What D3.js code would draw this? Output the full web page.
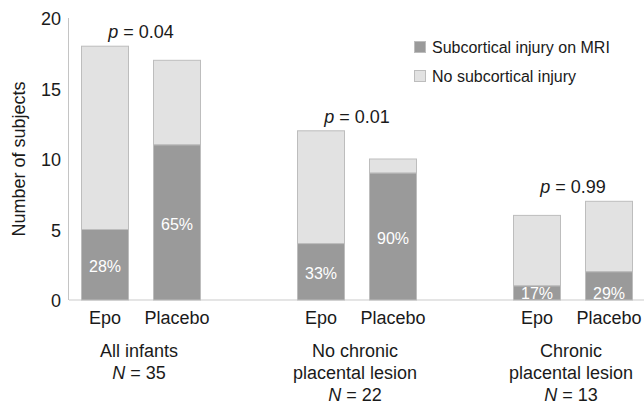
<!DOCTYPE html>
<html>
<head>
<meta charset="utf-8">
<script src="https://cdn.jsdelivr.net/npm/d3@7/dist/d3.min.js"></script>
<style>
  html, body { margin: 0; padding: 0; background: #fff; }
  svg { display: block; font-family: "Liberation Sans", Arial, Helvetica, sans-serif; }
</style>
</head>
<body>
<svg id="chart" width="644" height="404"></svg>
<script>
// ---- data ----
const groupLines = [["All infants"], ["No chronic", "placental lesion"], ["Chronic", "placental lesion"]];
const groupN = [35, 22, 13];
const pValues = ["0.04", "0.01", "0.99"];
const treatments = ["Epo", "Placebo"];
// per bar, in order: group1 Epo, group1 Placebo, group2 Epo, ...
const subcortical   = [5, 11, 4, 9, 1, 2];
const noSubcortical = [13, 6, 8, 1, 5, 5];
const percentLabels = ["28%", "65%", "33%", "90%", "17%", "29%"];
const yTicks = [0, 5, 10, 15, 20];
const legendLabels = ["Subcortical injury on MRI", "No subcortical injury"];

// ---- layout ----
const W = 644, H = 404;
const mLeft = 69, mRight = 645, mTop = 18, mBottom = 300;
const darkFill = "#9a9a9a", lightFill = "#e2e2e2", barStroke = "#bdbdbd";
const textColor = "#1a1a1a";

const svg = d3.select("#chart");

const y = d3.scaleLinear().domain([0, 20]).range([mBottom, mTop]);
// 8 slots: 2 bars per group + 1 empty slot between groups
const x = d3.scaleBand().domain(d3.range(8)).range([mLeft, mRight])
  .paddingInner(1/3).paddingOuter(1/6);

const bars = subcortical.map((s, i) => {
  const g = Math.floor(i / 2), t = i % 2;
  return { g, t, slot: g * 3 + t, sub: s, no: noSubcortical[i], total: s + noSubcortical[i], pct: percentLabels[i] };
});

// axes lines
svg.append("line").attr("x1", mLeft).attr("x2", W).attr("y1", y(0)).attr("y2", y(0))
  .attr("stroke", "#dcdcdc").attr("stroke-width", 1.5);
svg.append("line").attr("x1", mLeft - 0.5).attr("x2", mLeft - 0.5).attr("y1", y(20)).attr("y2", y(0))
  .attr("stroke", "#c4c4c4").attr("stroke-width", 1);

// y tick labels
svg.append("g").selectAll("text").data(yTicks).join("text")
  .attr("x", 61).attr("y", d => y(d) + 1)
  .attr("text-anchor", "end").attr("dominant-baseline", "central")
  .attr("font-size", 18).attr("fill", textColor)
  .text(d => d);

// y axis title
svg.append("text")
  .attr("transform", `translate(25,${y(10)}) rotate(-90)`)
  .attr("text-anchor", "middle").attr("font-size", 18).attr("fill", textColor)
  .text("Number of subjects");

// bars
const bg = svg.append("g");
bg.selectAll("rect.no").data(bars).join("rect").attr("class", "no")
  .attr("x", d => x(d.slot) + 0.5).attr("width", x.bandwidth() - 1)
  .attr("y", d => y(d.total)).attr("height", d => y(d.sub) - y(d.total))
  .attr("fill", lightFill).attr("stroke", barStroke).attr("stroke-width", 1);
bg.selectAll("rect.sub").data(bars).join("rect").attr("class", "sub")
  .attr("x", d => x(d.slot) + 0.5).attr("width", x.bandwidth() - 1)
  .attr("y", d => y(d.sub)).attr("height", d => y(0) - y(d.sub))
  .attr("fill", darkFill).attr("stroke", barStroke).attr("stroke-width", 1);

// percent labels
bg.selectAll("text.pct").data(bars).join("text").attr("class", "pct")
  .attr("x", d => x(d.slot) + x.bandwidth() / 2)
  .attr("y", d => {
    const h = y(0) - y(d.sub);
    return h < 35 ? y(0) - 7 : (y(d.sub) + y(0)) / 2 + 2;
  })
  .attr("text-anchor", "middle").attr("dominant-baseline", "central")
  .attr("font-size", 16).attr("fill", "#ffffff")
  .text(d => d.pct);

// treatment labels
svg.append("g").selectAll("text").data(bars).join("text")
  .attr("x", d => x(d.slot) + x.bandwidth() / 2).attr("y", 324)
  .attr("text-anchor", "middle").attr("font-size", 18).attr("fill", textColor)
  .text(d => treatments[d.t]);

// group centers
const groupCenter = g => (x(g * 3) + x(g * 3 + 1) + x.bandwidth()) / 2;

// p-values
pValues.forEach((p, g) => {
  const maxTotal = d3.max(bars.filter(b => b.g === g), b => b.total);
  const t = svg.append("text")
    .attr("x", groupCenter(g)).attr("y", y(maxTotal) - 8)
    .attr("text-anchor", "middle").attr("font-size", 18).attr("fill", textColor);
  t.append("tspan").attr("font-style", "italic").text("p");
  t.append("tspan").text(" = " + p);
});

// group labels
groupLines.forEach((lines, g) => {
  const cx = groupCenter(g) - 2;
  lines.forEach((ln, k) => {
    svg.append("text").attr("x", cx).attr("y", 357 + k * 22)
      .attr("text-anchor", "middle").attr("font-size", 18).attr("fill", textColor)
      .text(ln);
  });
  const t = svg.append("text").attr("x", cx).attr("y", 357 + lines.length * 22)
    .attr("text-anchor", "middle").attr("font-size", 18).attr("fill", textColor);
  t.append("tspan").attr("font-style", "italic").text("N");
  t.append("tspan").text(" = " + groupN[g]);
});

// legend
const lg = svg.append("g").attr("transform", "translate(414,41)");
legendLabels.forEach((lab, i) => {
  lg.append("rect").attr("x", 0.5).attr("y", i * 29 + 0.5).attr("width", 11).attr("height", 11)
    .attr("fill", i === 0 ? darkFill : lightFill).attr("stroke", barStroke).attr("stroke-width", 1);
  lg.append("text").attr("x", 18).attr("y", i * 29 + 12)
    .attr("font-size", 16).attr("fill", textColor).text(lab);
});
</script>
</body>
</html>
